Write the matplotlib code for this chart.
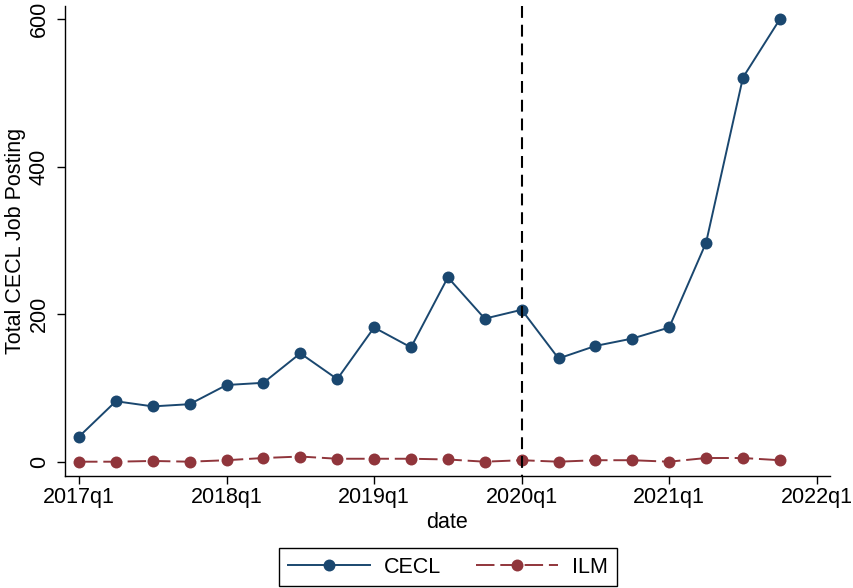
import matplotlib
matplotlib.use("Agg")
import matplotlib.pyplot as plt

plt.rcParams['font.family'] = ['Liberation Sans', 'DejaVu Sans']

# Quarterly job posting counts, 2017q1 .. 2021q4
quarters = [f"{y}q{q}" for y in range(2017, 2022) for q in range(1, 5)]
cecl = [34, 82, 75, 78, 104, 107, 147, 112, 182, 155,
        250, 194, 206, 140, 157, 167, 182, 297, 521, 600]
ilm = [0, 0, 1, 0, 2, 5, 7, 4, 4, 4,
       3, 0, 2, 0, 2, 2, 0, 5, 5, 2]

tick_labels = ["2017q1", "2018q1", "2019q1", "2020q1", "2021q1", "2022q1"]
y_ticks = [0, 200, 400, 600]
event_quarter = "2020q1"

navy = "#1A476F"
maroon = "#90353B"
fs = 15.5

fig = plt.figure(figsize=(8.54, 5.88), dpi=100)
ax = fig.add_axes([65 / 854, 1 - 476 / 588, (830 - 65) / 854, (476 - 6) / 588])

x = list(range(len(quarters)))
ax.plot(x, cecl, color=navy, lw=1.4, marker='o', markersize=8.6,
        markeredgewidth=0, label="CECL")
ax.plot(x, ilm, color=maroon, lw=1.4, marker='o', markersize=8.6,
        markeredgewidth=0, dashes=(9.5, 3.0), label="ILM")

ev = quarters.index(event_quarter)
ax.axvline(ev, ymin=1, ymax=0, color='black', lw=1.5, dashes=(5.7, 3.3))

# x axis: one tick per year at the first quarter (index counts quarters)
tick_pos = [(int(t[:4]) - 2017) * 4 + int(t[-1]) - 1 for t in tick_labels]
ax.set_xticks(tick_pos)
ax.set_xticklabels(tick_labels)
ax.set_xlim(-0.38, 20.36)

ax.set_yticks(y_ticks)
ax.set_yticklabels([str(v) for v in y_ticks], rotation=90, va='center')
ax.set_ylim(-19.4, 618)

for side in ("top", "right"):
    ax.spines[side].set_visible(False)
for side in ("left", "bottom"):
    ax.spines[side].set_linewidth(1.0)

ax.tick_params(axis='both', length=5.8, width=1.0, labelsize=fs, colors='black')
ax.tick_params(axis='x', pad=2)
ax.tick_params(axis='y', pad=5)

ax.set_xlabel("date", fontsize=fs, labelpad=3)
ax.set_ylabel("Total CECL Job Posting", fontsize=fs, labelpad=2)

leg = ax.legend(loc='upper center', bbox_to_anchor=(448 / 854, 1 - 548 / 588),
                bbox_transform=fig.transFigure, ncol=2, fontsize=fs,
                frameon=True, fancybox=False, edgecolor='black', framealpha=1,
                handlelength=3.8, handletextpad=0.65, columnspacing=1.63,
                borderpad=0.4, borderaxespad=0, numpoints=1)
leg.get_frame().set_linewidth(1.0)

fig.savefig("out.png", dpi=100)
